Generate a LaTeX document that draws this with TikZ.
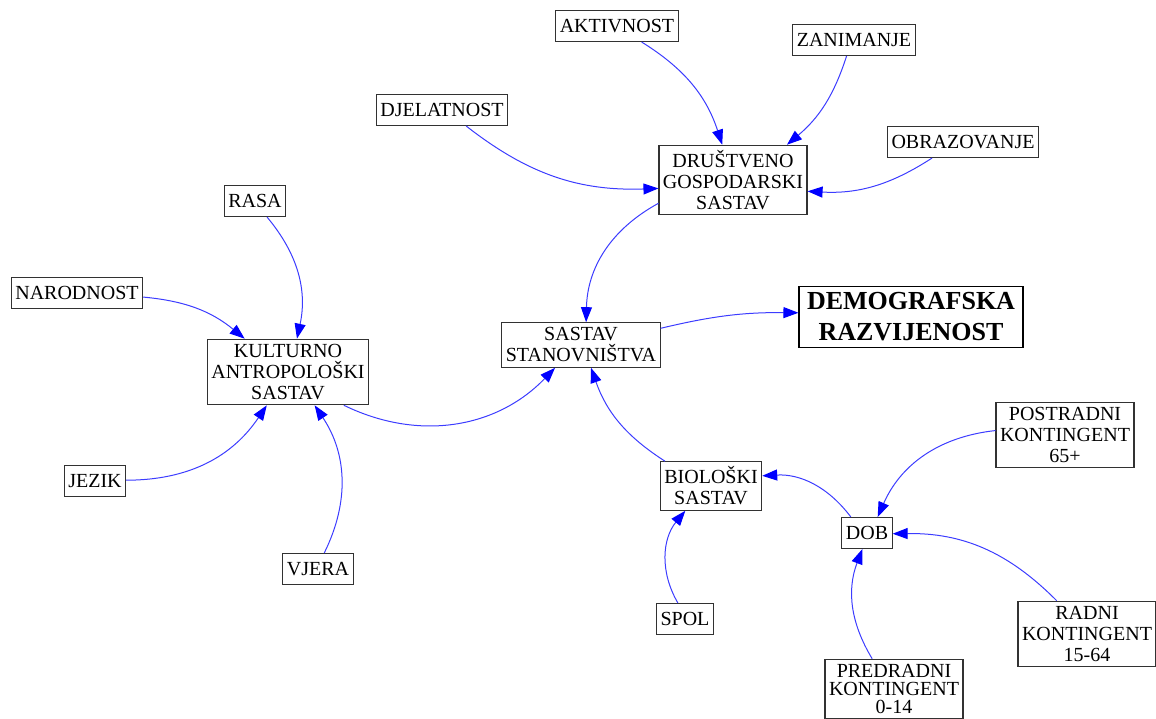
\documentclass[tikz,border=0pt]{standalone}
\usepackage{fontspec}
\setmainfont{Liberation Serif}
\usetikzlibrary{arrows.meta}
\definecolor{edgeblue}{RGB}{60,60,255}
\definecolor{boxgray}{RGB}{50,50,50}
\tikzset{
  box/.style={draw=boxgray, line width=1.1pt, fill=white, align=center,
    inner xsep=4pt, inner ysep=5pt, minimum height=31pt,
    font=\fontsize{20}{21}\selectfont},
  bigbox/.style={box, draw=black, inner xsep=8pt, inner ysep=6pt,
    font=\bfseries\fontsize{26}{31}\selectfont},
  link/.style={draw=edgeblue, line width=1pt,
    -{Triangle[length=15pt,width=11pt,color=blue]}}
}
\begin{document}
\begin{tikzpicture}[x=1pt,y=-1pt]
  \useasboundingbox (0,0) rectangle (1156,719);

  \node [box] (akt) at (617,26) {AKTIVNOST};
  \node [box] (zan) at (854,40) {ZANIMANJE};
  \node [box] (djel) at (442,110) {DJELATNOST};
  \node [box] (obraz) at (963,142) {OBRAZOVANJE};
  \node [box] (drus) at (733,180) {DRUŠTVENO\\GOSPODARSKI\\SASTAV};
  \node [box] (rasa) at (255,201) {RASA};
  \node [box] (narod) at (77,293) {NARODNOST};
  \node [box] (kult) at (288,372) {KULTURNO\\ANTROPOLOŠKI\\SASTAV};
  \node [box] (sastav) at (581,345) {SASTAV\\STANOVNIŠTVA};
  \node [bigbox] (demo) at (911,317) {DEMOGRAFSKA\\RAZVIJENOST};
  \node [box] (jezik) at (95,481) {JEZIK};
  \node [box] (vjera) at (318,569) {VJERA};
  \node [box] (bio) at (711,486) {BIOLOŠKI\\SASTAV};
  \node [box] (spol) at (685,619) {SPOL};
  \node [box] (dob) at (867,533) {DOB};
  \node [box] (post) at (1065,435) {POSTRADNI\\KONTINGENT\\65+};
  \node [box] (radni) at (1087,634) {RADNI\\KONTINGENT\\15-64};
  \node [box, font=\fontsize{20}{18}\selectfont] (pred) at (894,689) {PREDRADNI\\KONTINGENT\\0-14};

  % drustveno gospodarski
  \draw [link] (akt) to[bend left=20] (drus);
  \draw [link] (zan) to[bend left=16] (drus);
  \draw [link] (djel) to[bend right=20] (drus);
  \draw [link] (obraz) to[bend left=18] (drus);
  \draw [link] (drus) to[bend right=30] (sastav);
  \draw [link] (sastav) to[bend left=7] (demo);

  % kulturno antropoloski
  \draw [link] (rasa) to[bend left=26] (kult);
  \draw [link] (narod) to[bend left=17] (kult);
  \draw [link] (jezik) to[bend right=28] (kult);
  \draw [link] (vjera) to[bend right=30] (kult);
  \draw [link] (kult) to[bend right=36] (sastav);

  % bioloski
  \draw [link] (bio) to[bend left=19] (sastav);
  \draw [link] (spol) to[bend left=35] (bio);
  \draw [link] (dob) to[bend right=28] (bio);
  \draw [link] (post) to[bend right=30] (dob);
  \draw [link] (pred) to[bend left=26] (dob);
  \draw [link] (radni) to[bend right=23] (dob);
\end{tikzpicture}
\end{document}
